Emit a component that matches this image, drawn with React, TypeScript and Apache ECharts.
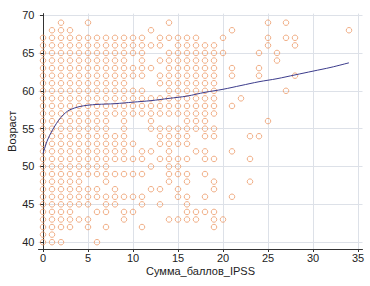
import React, { useEffect, useRef } from "react";
import * as echarts from "echarts";

// Age rows (y) and the IPSS scores (x) that have at least one patient at that age
const ages = [69, 68, 67, 66, 65, 64, 63, 62, 61, 60, 59, 58, 57, 56, 55, 54, 53, 52, 51, 50, 49, 48, 47, 46, 45, 44, 43, 42, 41, 40];
const ipssAtAge: number[][] = [
  [2, 5, 14, 25, 27],
  [1, 2, 3, 12, 21, 34],
  [0, 1, 2, 3, 4, 5, 6, 7, 8, 9, 10, 11, 13, 14, 15, 16, 17, 20, 25, 27, 28],
  [0, 1, 2, 3, 4, 5, 6, 7, 8, 9, 10, 11, 12, 13, 15, 16, 17, 18, 19, 25, 28],
  [0, 1, 2, 3, 4, 5, 6, 7, 8, 9, 10, 11, 14, 15, 16, 17, 18, 19, 20, 24, 26],
  [0, 1, 2, 3, 4, 5, 6, 7, 8, 9, 11, 13, 14, 15, 16, 17, 18, 19, 26],
  [0, 1, 2, 3, 4, 5, 6, 7, 8, 9, 10, 11, 12, 14, 15, 16, 17, 18, 19, 21, 24],
  [0, 1, 2, 3, 4, 5, 6, 7, 8, 9, 10, 11, 13, 14, 15, 16, 17, 18, 19, 21, 24, 28],
  [0, 1, 2, 3, 4, 5, 6, 7, 8, 9, 13, 14, 15, 16, 17, 18, 19],
  [0, 1, 2, 3, 4, 5, 6, 7, 8, 9, 10, 11, 14, 15, 16, 17, 18, 19, 27],
  [0, 1, 2, 3, 4, 5, 6, 7, 8, 9, 10, 11, 12, 13, 14, 15, 16, 17, 18, 19, 22],
  [0, 1, 2, 3, 4, 5, 6, 7, 8, 9, 10, 11, 12, 13, 14, 15, 16, 17, 18, 19, 21],
  [0, 1, 2, 3, 4, 5, 6, 7, 8, 9, 10, 11, 12, 13, 14, 15, 16, 17, 18, 19],
  [0, 1, 2, 3, 4, 5, 6, 7, 9, 12, 16, 17, 18, 25],
  [0, 1, 2, 3, 4, 5, 6, 7, 9, 12, 13, 14, 15, 16, 17, 18, 19],
  [0, 1, 2, 3, 4, 5, 6, 7, 8, 9, 13, 14, 15, 16, 18, 19, 23, 24],
  [0, 1, 2, 3, 4, 5, 6, 7, 8, 9, 10, 13, 14, 15, 16],
  [0, 1, 2, 3, 4, 5, 6, 7, 8, 9, 11, 12, 14, 17, 18, 21],
  [0, 1, 2, 3, 4, 5, 6, 7, 8, 9, 10, 11, 13, 14, 15, 16, 18, 19, 23],
  [0, 1, 2, 3, 4, 5, 6, 7, 12, 14, 15],
  [0, 1, 2, 3, 4, 5, 6, 7, 8, 9, 10, 11, 14, 15, 16, 18],
  [0, 1, 2, 3, 4, 7, 14, 16, 19, 23],
  [0, 1, 2, 3, 4, 5, 6, 8, 12, 13, 15, 19],
  [0, 1, 2, 3, 4, 5, 6, 7, 8, 9, 10, 11, 15, 16, 18, 21],
  [0, 1, 2, 3, 4, 5, 7, 8, 11, 13, 16],
  [0, 1, 2, 3, 6, 7, 9, 10, 16, 17, 18, 19],
  [0, 1, 2, 3, 4, 5, 9, 14, 15, 16, 17, 19, 20],
  [0, 1, 2, 3, 5, 7, 11, 19],
  [0, 1],
  [0, 1, 2, 6],
];

// Fitted (smoothed) curve
const fitIpss = [0, 0.5, 1, 1.5, 2, 2.5, 3, 4, 5, 6, 8, 10, 12, 14, 16, 18, 20, 22, 24, 26, 28, 30, 32, 34];
const fitAge = [51.7, 53.5, 54.7, 55.7, 56.5, 57.1, 57.5, 57.9, 58.1, 58.2, 58.3, 58.5, 58.7, 59.0, 59.3, 59.8, 60.2, 60.7, 61.2, 61.6, 62.1, 62.6, 63.1, 63.7];

const xTitle = "Сумма_баллов_IPSS";
const yTitle = "Возраст";

export default function App() {
  const ref = useRef<HTMLDivElement>(null);
  useEffect(() => {
    if (!ref.current) return;
    const chart = echarts.init(ref.current, undefined, { renderer: "svg" });
    const points: number[][] = [];
    ages.forEach((age, i) => {
      ipssAtAge[i].forEach((s) => points.push([s, age]));
    });
    const fit = fitIpss.map((x, i) => [x, fitAge[i]]);
    const font = "Liberation Sans, Arial, sans-serif";
    chart.setOption({
      animation: false,
      backgroundColor: "#ffffff",
      grid: { left: 38.5, right: 7.5, top: 13.6, bottom: 37, containLabel: false, outerBoundsMode: "none" },
      xAxis: {
        type: "value",
        min: -0.5,
        max: 35.5,
        minInterval: 5,
        maxInterval: 5,
        splitNumber: 7,
        name: xTitle,
        nameLocation: "middle",
        nameGap: 16,
        nameMoveOverlap: false,
        nameTextStyle: { fontFamily: font, fontSize: 11, color: "#222" },
        axisLine: { show: true, lineStyle: { color: "#333", width: 1 } },
        axisTick: { show: true, length: 3, lineStyle: { color: "#333" } },
        axisLabel: { showMinLabel: false, showMaxLabel: false, margin: 3, fontFamily: font, fontSize: 11, color: "#222" },
        splitLine: { show: true, showMinLine: false, showMaxLine: false, lineStyle: { color: "#dde1e8", width: 1 } },
      },
      yAxis: {
        type: "value",
        min: 39.1,
        max: 70.2,
        minInterval: 5,
        maxInterval: 5,
        splitNumber: 6,
        name: yTitle,
        nameLocation: "middle",
        nameGap: 21,
        nameMoveOverlap: false,
        nameTextStyle: { fontFamily: font, fontSize: 11, color: "#222" },
        axisLine: { show: true, lineStyle: { color: "#333", width: 1 } },
        axisTick: { show: true, length: 3, lineStyle: { color: "#333" } },
        axisLabel: { showMinLabel: false, showMaxLabel: false, margin: 4, fontFamily: font, fontSize: 11, color: "#222" },
        splitLine: { show: true, showMinLine: false, showMaxLine: false, lineStyle: { color: "#dde1e8", width: 1 } },
      },
      series: [
        {
          type: "scatter",
          data: points,
          symbol: "circle",
          symbolSize: 5.5,
          clip: false,
          itemStyle: { color: "rgba(255,255,255,0)", borderColor: "#ec9a68", borderWidth: 1 },
        },
        {
          type: "line",
          data: fit,
          smooth: 0.3,
          showSymbol: false,
          symbol: "none",
          clip: false,
          lineStyle: { color: "#3c3c8c", width: 1 },
        },
      ],
    });
    return () => chart.dispose();
  }, []);
  return <div ref={ref} style={{ position: "fixed", left: 0, top: 0, width: 370, height: 286 }} />;
}
